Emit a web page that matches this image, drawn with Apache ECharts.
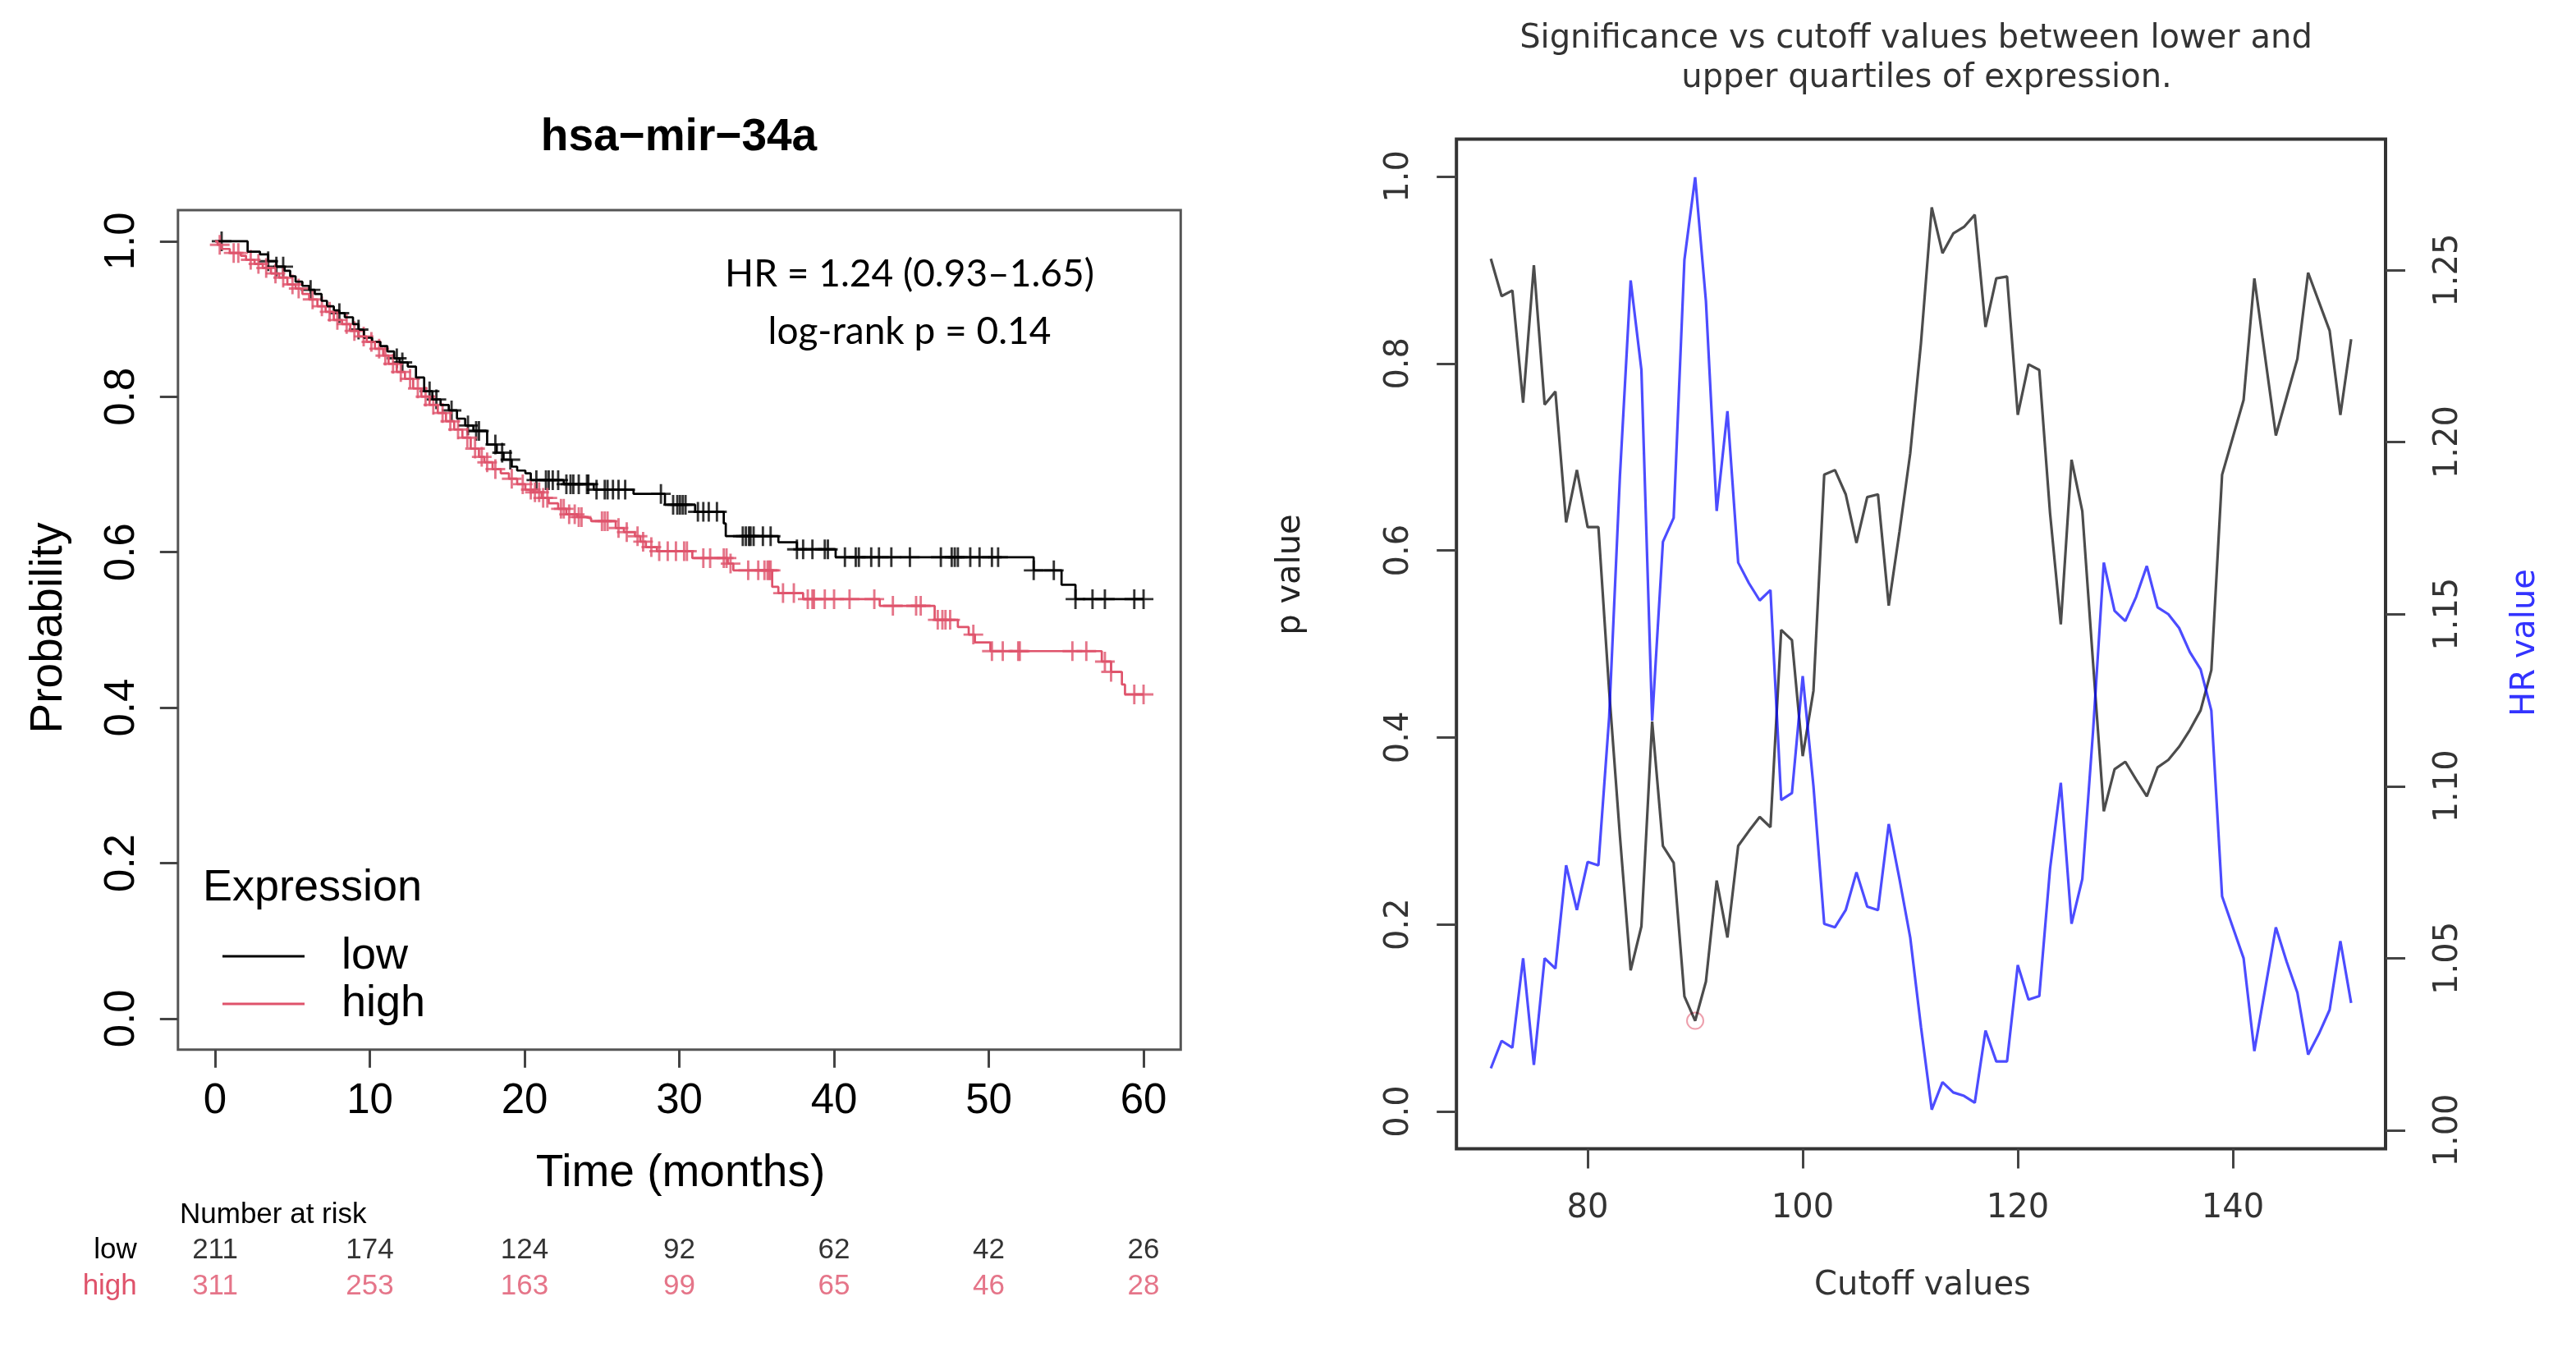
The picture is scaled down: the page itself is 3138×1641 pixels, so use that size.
<!DOCTYPE html>
<html>
<head>
<meta charset="utf-8">
<script src="https://cdn.jsdelivr.net/npm/echarts@6/dist/echarts.min.js"></script>
<style>
html,body{margin:0;padding:0;background:#fff}
#main{width:3138px;height:1641px}
</style>
</head>
<body>
<div id="main"></div>
<script>
// ---- Kaplan-Meier, hsa-mir-34a (low / high expression) ----
var lowTimes = [0, 2.1, 2.9, 3.43, 3.96, 4.49, 4.85, 5.2, 5.64, 6.08, 6.44, 6.88, 7.23, 7.67, 8.03, 8.38, 8.91, 9.27, 9.62, 10.15,
  10.68, 11.13, 11.57, 11.92, 12.45, 12.98, 13.51, 14.04, 14.57, 15.1, 15.63, 16.16, 16.69, 17.58, 18.2, 18.64, 19.17, 19.52,
  20.05, 20.4, 22.53, 24.47, 27.04, 29.07, 31.02, 32.87, 33.0, 36.4, 37.6, 40.1, 52.9, 54.7, 55.6, 60];
var lowSurv = [1, 0.9866, 0.9831, 0.9743, 0.9673, 0.962, 0.955, 0.948, 0.9426, 0.9374, 0.9321, 0.9233, 0.9163, 0.911, 0.9075,
  0.9022, 0.8934, 0.8863, 0.8758, 0.8705, 0.8652, 0.8582, 0.8494, 0.8441, 0.8388, 0.8247, 0.807, 0.7965, 0.7894, 0.7824,
  0.7718, 0.763, 0.756, 0.7385, 0.728, 0.719, 0.71, 0.705, 0.7015, 0.6927, 0.6874, 0.6804, 0.675, 0.661, 0.652, 0.637,
  0.6206, 0.6128, 0.6037, 0.5935, 0.5766, 0.558, 0.5396, 0.5396];
var lowCensor = [0.42, 3.43, 3.96, 4.4, 6.17, 8.03, 9.27, 11.74, 12.1, 13.86, 14.3, 15.28, 16.34, 16.87, 17.05, 18.11, 18.55,
  19.08, 20.76, 21.38, 21.56, 21.82, 22.17, 22.7, 22.97, 23.15, 23.5, 24.03, 24.12, 24.65, 25.18, 25.36, 25.71, 26.07, 26.5,
  28.81, 29.6, 29.87, 30.04, 30.22, 30.4, 31.2, 31.55, 31.9, 32.43, 34.1, 34.3, 34.5, 34.6, 34.8, 35.4, 35.9, 37.6, 38.0,
  38.6, 39.4, 39.6, 40.7, 41.4, 41.6, 42.4, 42.9, 43.7, 44.9, 46.9, 47.6, 47.8, 48.0, 48.8, 49.4, 50.2, 50.6, 52.9, 54.2,
  55.6, 56.7, 57.5, 59.4, 60.0];

var highTimes = [0, 0.16, 0.42, 0.95, 1.66, 2.0, 2.55, 3.08, 3.61, 4.14, 4.67, 5.2, 5.64, 6.08, 6.61, 7.14, 7.67, 8.2, 8.73,
  9.27, 9.8, 10.33, 10.86, 11.21, 11.74, 12.27, 12.8, 13.33, 13.86, 14.39, 14.92, 15.45, 15.98, 16.52, 17.05, 17.4, 17.93,
  18.46, 18.99, 19.52, 20.05, 20.58, 21.11, 21.56, 22.17, 22.7, 23.41, 23.94, 24.3, 25.89, 26.42, 27.13, 27.48, 27.84,
  28.55, 30.84, 33.13, 33.49, 36.0, 36.4, 38.0, 42.95, 46.5, 48.0, 48.7, 49.1, 50.1, 57.3, 57.9, 58.6, 58.8, 60];
var highSurv = [1, 0.9954, 0.9901, 0.9849, 0.9813, 0.9761, 0.9708, 0.9656, 0.9585, 0.9532, 0.9444, 0.9391, 0.9321, 0.9251,
  0.9163, 0.9092, 0.8987, 0.8934, 0.8846, 0.8775, 0.8705, 0.8617, 0.8529, 0.8423, 0.8318, 0.823, 0.8106, 0.8001, 0.7895,
  0.779, 0.7684, 0.7578, 0.7473, 0.7332, 0.7226, 0.7156, 0.7068, 0.7015, 0.6945, 0.6874, 0.6804, 0.677, 0.6698, 0.6628,
  0.6558, 0.6487, 0.6452, 0.6434, 0.6399, 0.6311, 0.6258, 0.6206, 0.6135, 0.6065, 0.6012, 0.5924, 0.5853, 0.5766, 0.5554,
  0.5473, 0.5396, 0.531, 0.513, 0.5037, 0.494, 0.484, 0.4727, 0.4593, 0.446, 0.4298, 0.417, 0.417];
var highCensor = [0.3, 1.2, 1.5, 2.3, 2.8, 3.3, 3.9, 4.4, 5.0, 5.4, 6.3, 6.9, 7.4, 7.9, 8.5, 9.0, 9.6, 10.1, 10.6, 11.0, 11.5,
  12.0, 12.6, 13.1, 13.6, 14.1, 14.7, 15.2, 15.7, 16.3, 16.8, 17.23, 17.58, 18.11, 19.17, 19.88, 20.4, 20.67, 20.94, 21.2,
  21.47, 22.35, 22.53, 22.88, 23.24, 23.5, 23.68, 25.0, 25.18, 25.36, 26.07, 26.6, 27.3, 27.66, 28.19, 28.7, 29.25, 29.78,
  30.31, 30.49, 31.55, 31.99, 32.87, 33.05, 33.31, 34.45, 35.1, 35.5, 35.7, 35.8, 35.9, 36.7, 37.4, 38.3, 38.6, 38.7, 39.4,
  40.0, 41.0, 42.6, 43.8, 45.3, 45.6, 46.7, 47.0, 47.2, 47.5, 49.0, 50.2, 50.9, 51.9, 52.0, 55.4, 56.3, 57.5, 57.9, 59.4, 60.0];

var riskTimes = [0, 10, 20, 30, 40, 50, 60];
var riskLow = [211, 174, 124, 92, 62, 42, 26];
var riskHigh = [311, 253, 163, 99, 65, 46, 28];
var kmTicksX = [0, 10, 20, 30, 40, 50, 60];
var kmTicksY = [0, 0.2, 0.4, 0.6, 0.8, 1.0];

// ---- cutoff scan: p value / HR ----
var cutoffs = [71, 72, 73, 74, 75, 76, 77, 78, 79, 80, 81, 82, 83, 84, 85, 86, 87, 88, 89, 90, 91, 92, 93, 94, 95, 96, 97,
  98, 99, 100, 101, 102, 103, 104, 105, 106, 107, 108, 109, 110, 111, 112, 113, 114, 115, 116, 117, 118, 119, 120, 121,
  122, 123, 124, 125, 126, 127, 128, 129, 130, 131, 132, 133, 134, 135, 136, 137, 138, 139, 140, 141, 142, 143, 144, 145,
  146, 147, 148, 149, 150, 151];
var pValues = [0.912, 0.872, 0.878, 0.758, 0.905, 0.756, 0.770, 0.630, 0.686, 0.625, 0.625, 0.450, 0.295, 0.151, 0.198,
  0.417, 0.284, 0.266, 0.123, 0.097, 0.139, 0.247, 0.186, 0.284, 0.300, 0.315, 0.304, 0.515, 0.504, 0.380, 0.450, 0.681,
  0.686, 0.660, 0.608, 0.657, 0.660, 0.541, 0.620, 0.704, 0.822, 0.967, 0.918, 0.939, 0.946, 0.959, 0.839, 0.891, 0.893,
  0.745, 0.799, 0.793, 0.640, 0.521, 0.697, 0.642, 0.480, 0.321, 0.366, 0.374, 0.355, 0.337, 0.368, 0.376, 0.390, 0.408,
  0.429, 0.472, 0.681, 0.721, 0.761, 0.891, 0.807, 0.723, 0.764, 0.805, 0.897, 0.866, 0.835, 0.745, 0.826];
var hrValues = [1.018, 1.026, 1.024, 1.050, 1.019, 1.050, 1.047, 1.077, 1.064, 1.078, 1.077, 1.120, 1.190, 1.247, 1.221,
  1.119, 1.171, 1.178, 1.253, 1.277, 1.241, 1.180, 1.209, 1.165, 1.159, 1.154, 1.157, 1.096, 1.098, 1.132, 1.100, 1.060,
  1.059, 1.064, 1.075, 1.065, 1.064, 1.089, 1.073, 1.056, 1.030, 1.006, 1.014, 1.011, 1.010, 1.008, 1.029, 1.020, 1.020,
  1.048, 1.038, 1.039, 1.076, 1.101, 1.060, 1.073, 1.116, 1.165, 1.151, 1.148, 1.155, 1.164, 1.152, 1.150, 1.146, 1.139,
  1.134, 1.122, 1.068, 1.059, 1.050, 1.023, 1.041, 1.059, 1.049, 1.040, 1.022, 1.028, 1.035, 1.055, 1.037];
var cutTicks = [80, 100, 120, 140];
var pTicks = [0, 0.2, 0.4, 0.6, 0.8, 1.0];
var hrTicks = [1.00, 1.05, 1.10, 1.15, 1.20, 1.25];

var HIGH_COL = '#DF536B';
var plusMark = 'path://M0,44H100V56H0Z M44,0H56V100H44Z';
var kmFont = 'Liberation Sans';
var scanFont = 'DejaVu Sans';

function pairs(xs, ys) {
  var out = [];
  for (var i = 0; i < xs.length; i++) out.push([xs[i], ys[i]]);
  return out;
}
// survival level at time t from the step data
function survAt(times, surv, t) {
  var s = surv[0];
  for (var i = 0; i < times.length; i++) {
    if (times[i] <= t) s = surv[i];
  }
  return s;
}
function censorPts(cens, times, surv) {
  return cens.map(function (t) { return [t, survAt(times, surv, t)]; });
}
function riskPts(row, counts) {
  return riskTimes.map(function (t, i) { return [t, row, counts[i]]; });
}
function txt(x, y, s, font, color, rot, align) {
  return {
    type: 'text', x: x, y: y, rotation: rot || 0,
    style: {
      text: s, font: font, fill: color,
      textAlign: align || 'center', textVerticalAlign: 'middle',
      align: align || 'center', verticalAlign: 'middle'
    }
  };
}

// lowest p value gets the red circle
var minIdx = 0;
pValues.forEach(function (p, i) { if (p < pValues[minIdx]) minIdx = i; });

var chart = echarts.init(document.getElementById('main'));

var noLine = { show: false, onZero: false };

var option = {
  animation: false,
  backgroundColor: '#fff',
  grid: [
    { left: 216.8, top: 256, width: 1221.5, height: 1022.8, show: true, borderColor: '#555', borderWidth: 3 },
    { left: 1774.2, top: 169.4, width: 1131.8, height: 1230.2, show: true, borderColor: '#333', borderWidth: 4 },
    { left: 216.8, top: 1501, width: 1221.5, height: 88, show: false }
  ],
  xAxis: [
    {
      gridIndex: 0, type: 'value', min: -2.4, max: 62.4,
      axisLine: noLine, splitLine: { show: false },
      axisTick: { customValues: kmTicksX, length: 22, lineStyle: { color: '#444', width: 3 } },
      axisLabel: { customValues: kmTicksX, margin: 38, fontSize: 51, fontFamily: kmFont, color: '#000' }
    },
    {
      gridIndex: 1, type: 'value', min: 67.8, max: 154.2,
      axisLine: noLine, splitLine: { show: false },
      axisTick: { customValues: cutTicks, length: 24, lineStyle: { color: '#444', width: 3 } },
      axisLabel: { customValues: cutTicks, margin: 53, fontSize: 40, fontFamily: scanFont, color: '#333' }
    },
    { gridIndex: 2, type: 'value', min: -2.4, max: 62.4, show: false }
  ],
  yAxis: [
    {
      gridIndex: 0, type: 'value', min: -0.04, max: 1.04,
      axisLine: noLine, splitLine: { show: false },
      axisTick: { customValues: kmTicksY, length: 22, lineStyle: { color: '#444', width: 3 } },
      axisLabel: {
        customValues: kmTicksY, rotate: 90, margin: 42, fontSize: 51, fontFamily: kmFont, color: '#000',
        formatter: function (v) { return v.toFixed(1); }
      }
    },
    {
      gridIndex: 1, type: 'value', min: -0.04, max: 1.04, position: 'left',
      axisLine: noLine, splitLine: { show: false },
      axisTick: { customValues: pTicks, length: 24, lineStyle: { color: '#444', width: 3 } },
      axisLabel: {
        customValues: pTicks, rotate: 90, margin: 50, fontSize: 40, fontFamily: scanFont, color: '#333',
        formatter: function (v) { return v.toFixed(1); }
      }
    },
    {
      gridIndex: 1, type: 'value', min: 0.9946, max: 1.2881, position: 'right',
      axisLine: noLine, splitLine: { show: false },
      axisTick: { customValues: hrTicks, length: 24, lineStyle: { color: '#444', width: 3 } },
      axisLabel: {
        customValues: hrTicks, rotate: 90, margin: 57, fontSize: 40, fontFamily: scanFont, color: '#333',
        formatter: function (v) { return v.toFixed(2); }
      }
    },
    {
      gridIndex: 2, type: 'category', data: ['low', 'high'], inverse: true,
      axisLine: noLine, axisTick: { show: false }, splitLine: { show: false },
      axisLabel: {
        interval: 0, margin: 50, fontSize: 35, fontFamily: kmFont,
        formatter: function (v) { return '{' + v + '|' + v + '}'; },
        rich: {
          low: { color: '#000', fontSize: 35, fontFamily: kmFont },
          high: { color: HIGH_COL, fontSize: 35, fontFamily: kmFont }
        }
      }
    }
  ],
  legend: {
    data: [{ name: 'low', icon: 'rect' }, { name: 'high', icon: 'rect' }],
    orient: 'vertical', left: 266, top: 1131, itemWidth: 100, itemHeight: 3, itemGap: 0,
    selectedMode: false,
    textStyle: { fontFamily: kmFont, fontSize: 54, color: '#000', lineHeight: 58, padding: [0, 0, 0, 40] }
  },
  graphic: [
    txt(827, 168, 'hsa\u2212mir\u221234a', 'bold 55px "Liberation Sans"', '#000'),
    txt(1108, 334, 'HR = 1.24 (0.93\u20131.65)', '46px Lato', '#000'),
    txt(1108, 404, 'log-rank p = 0.14', '46px Lato', '#000'),
    txt(60, 765, 'Probability', '55px "Liberation Sans"', '#000', Math.PI / 2),
    txt(829, 1430, 'Time (months)', '55px "Liberation Sans"', '#000'),
    txt(247, 1082, 'Expression', '54px "Liberation Sans"', '#000', 0, 'left'),
    txt(219, 1480, 'Number at risk', '35px "Liberation Sans"', '#000', 0, 'left'),
    txt(2334, 48, 'Significance vs cutoff values between lower and', '40px "DejaVu Sans"', '#333'),
    txt(2347, 96, 'upper quartiles of expression.', '40px "DejaVu Sans"', '#333'),
    txt(1573, 700, 'p value', '40px "DejaVu Sans"', '#222', Math.PI / 2),
    txt(3077, 783, 'HR value', '40px "DejaVu Sans"', '#3333ff', Math.PI / 2),
    txt(2342, 1567, 'Cutoff values', '40px "DejaVu Sans"', '#333')
  ],
  series: [
    {
      name: 'low', type: 'line', step: 'end', xAxisIndex: 0, yAxisIndex: 0,
      data: pairs(lowTimes, lowSurv), symbol: 'none', color: '#000',
      lineStyle: { color: '#000', width: 2.7 }
    },
    {
      name: 'high', type: 'line', step: 'end', xAxisIndex: 0, yAxisIndex: 0,
      data: pairs(highTimes, highSurv), symbol: 'none', color: HIGH_COL,
      lineStyle: { color: HIGH_COL, width: 2.7 }
    },
    {
      name: 'low censored', type: 'scatter', xAxisIndex: 0, yAxisIndex: 0,
      data: censorPts(lowCensor, lowTimes, lowSurv), symbol: plusMark, symbolSize: 24,
      itemStyle: { color: '#000' }
    },
    {
      name: 'high censored', type: 'scatter', xAxisIndex: 0, yAxisIndex: 0,
      data: censorPts(highCensor, highTimes, highSurv), symbol: plusMark, symbolSize: 24,
      itemStyle: { color: HIGH_COL }
    },
    {
      name: 'risk low', type: 'scatter', xAxisIndex: 2, yAxisIndex: 3,
      data: riskPts('low', riskLow), symbolSize: 1, itemStyle: { color: 'rgba(0,0,0,0)' },
      label: {
        show: true, position: 'inside', fontSize: 35, fontFamily: kmFont, color: '#000',
        formatter: function (p) { return p.value[2]; }
      }
    },
    {
      name: 'risk high', type: 'scatter', xAxisIndex: 2, yAxisIndex: 3,
      data: riskPts('high', riskHigh), symbolSize: 1, itemStyle: { color: 'rgba(0,0,0,0)' },
      label: {
        show: true, position: 'inside', fontSize: 35, fontFamily: kmFont, color: HIGH_COL,
        formatter: function (p) { return p.value[2]; }
      }
    },
    {
      name: 'p value', type: 'line', xAxisIndex: 1, yAxisIndex: 1,
      data: pairs(cutoffs, pValues), symbol: 'none',
      lineStyle: { color: 'rgba(0,0,0,0.7)', width: 3.2 }
    },
    {
      name: 'HR value', type: 'line', xAxisIndex: 1, yAxisIndex: 2,
      data: pairs(cutoffs, hrValues), symbol: 'none',
      lineStyle: { color: 'rgba(0,0,255,0.7)', width: 3.2 }
    },
    {
      name: 'min p', type: 'scatter', xAxisIndex: 1, yAxisIndex: 1,
      data: [[cutoffs[minIdx], pValues[minIdx]]], symbol: 'circle', symbolSize: 20,
      itemStyle: { color: 'rgba(0,0,0,0)', borderColor: 'rgba(223,83,107,0.7)', borderWidth: 2 }
    }
  ]
};
chart.setOption(option);
</script>
</body>
</html>
